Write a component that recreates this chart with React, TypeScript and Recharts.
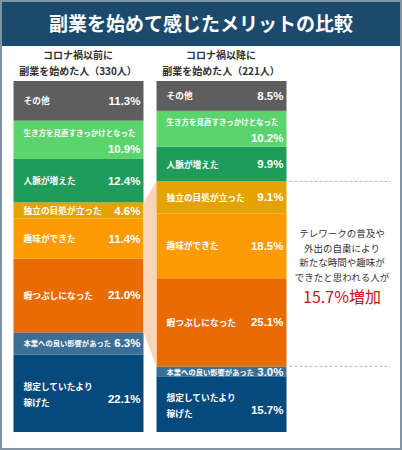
import React from "react";
import { BarChart, Bar, XAxis, YAxis } from "recharts";

const groups = ["コロナ禍以前", "コロナ禍以降"];
const groupHeaders = [
  ["コロナ禍以前に", "副業を始めた人（330人）"],
  ["コロナ禍以降に", "副業を始めた人（221人）"],
];
const categories = [
  "その他",
  "生き方を見直すきっかけとなった",
  "人脈が増えた",
  "独立の目処が立った",
  "趣味ができた",
  "暇つぶしになった",
  "本業への良い影響があった",
  "想定していたより\n稼げた",
];
const beforeValues = [11.3, 10.9, 12.4, 4.6, 11.4, 21.0, 6.3, 22.1];
const afterValues = [8.5, 10.2, 9.9, 9.1, 18.5, 25.1, 3.0, 15.7];
const colors = ["#5e5e5e", "#5bd46e", "#1f9c5a", "#e4a300", "#fe9a03", "#e96c03", "#3c6f96", "#064a7b"];
// how the name / value sit inside each segment
const layouts = ["row", "stack", "row", "row", "row", "row", "small", "two"];
const noteLines = ["テレワークの普及や", "外出の自粛により", "新たな時間や趣味が", "できたと思われる人が"];
const noteHighlight = "15.7%増加";

// segments joined by the peach band (独立 .. 暇つぶし)
const linkFrom = 3;
const linkTo = 5;

const BAR = 130;
const GAP = 13;
const JP = '"Noto Sans CJK JP", "Noto Sans", sans-serif';
const NUM = '"Liberation Sans", Arial, sans-serif';

const data = groups.map((g, gi) => {
  const vals = gi === 0 ? beforeValues : afterValues;
  const row: Record<string, string | number> = { group: g };
  categories.forEach((_, ci) => {
    row["c" + ci] = vals[ci];
  });
  return row;
});

const sum = (arr: number[], from: number, to: number) =>
  arr.slice(from, to + 1).reduce((a, b) => a + b, 0);

function Segment(props: any) {
  const { x, y, width, height, index, ci } = props;
  const vals = index === 0 ? beforeValues : afterValues;
  const v = vals[ci];
  const cy = y + height / 2;
  const lx = x + 10;
  const rx = x + width - 3;
  const layout = layouts[ci];
  const name = categories[ci];
  const nameStyle = { fontFamily: JP, fontWeight: 700, fill: "#fff" };
  const valStyle = { fontFamily: NUM, fontWeight: 700, fill: "#fff", fontSize: 11.5 };

  let link = null;
  if (ci === linkFrom && index === 1) {
    const k = height / v;
    const base = y + sum(afterValues, linkFrom, afterValues.length - 1) * k;
    const rTop = y;
    const rBot = y + sum(afterValues, linkFrom, linkTo) * k;
    const lTop = base - sum(beforeValues, linkFrom, beforeValues.length - 1) * k;
    const lBot = base - sum(beforeValues, linkTo + 1, beforeValues.length - 1) * k;
    const lx0 = x - GAP;
    link = (
      <g>
        <polygon
          points={`${lx0},${lTop} ${x},${rTop} ${x},${rBot} ${lx0},${lBot}`}
          fill="#f9d5b7"
        />
        <line x1={x + width + 3} x2={x + width + 104} y1={rTop} y2={rTop} stroke="#b5b5b5" strokeDasharray="3 2" />
        <line x1={x + width + 3} x2={x + width + 104} y1={rBot} y2={rBot} stroke="#b5b5b5" strokeDasharray="3 2" />
      </g>
    );
  }

  let labels;
  if (layout === "stack") {
    labels = (
      <>
        <text x={lx} y={cy - 7} fontSize={7.5} dominantBaseline="central" style={nameStyle}>{name}</text>
        <text x={rx} y={cy + 9} textAnchor="end" dominantBaseline="central" style={valStyle}>{v.toFixed(1)}%</text>
      </>
    );
  } else if (layout === "two") {
    const [a, b] = name.split("\n");
    labels = (
      <>
        <text x={lx} y={cy - 7} fontSize={8.7} dominantBaseline="central" style={nameStyle}>{a}</text>
        <text x={lx} y={cy + 9} fontSize={8.7} dominantBaseline="central" style={nameStyle}>{b}</text>
        <text x={rx} y={cy + 6} textAnchor="end" dominantBaseline="central" style={valStyle}>{v.toFixed(1)}%</text>
      </>
    );
  } else {
    labels = (
      <>
        <text x={lx} y={cy} fontSize={layout === "small" ? 7.3 : 8.7} dominantBaseline="central" style={nameStyle}>{name}</text>
        <text x={rx} y={cy} textAnchor="end" dominantBaseline="central" style={valStyle}>{v.toFixed(1)}%</text>
      </>
    );
  }

  return (
    <g>
      {link}
      <rect x={x} y={y} width={width} height={height} fill={colors[ci]} />
      {labels}
    </g>
  );
}

export default function App() {
  const order = categories.map((_, i) => i).reverse();
  return (
    <div
      style={{
        position: "absolute",
        left: 0,
        top: 0,
        width: 402,
        height: 450,
        background: "#fff",
        boxSizing: "border-box",
        border: "2px solid #8094a6",
        overflow: "hidden",
      }}
    >
      <div
        style={{
          position: "absolute",
          left: -2,
          top: -2,
          width: 402,
          height: 46,
          background: "#1c4a6c",
          color: "#fff",
          fontFamily: JP,
          fontWeight: 700,
          fontSize: 19,
          lineHeight: "46px",
          textAlign: "center",
        }}
      >
        副業を始めて感じたメリットの比較
      </div>
      {groupHeaders.map((lines, gi) => (
        <div
          key={gi}
          style={{
            position: "absolute",
            left: (gi === 0 ? 78 : 221) - 2 - 85,
            top: 45,
            width: 170,
            textAlign: "center",
            fontFamily: JP,
            fontWeight: 700,
            fontSize: 10,
            lineHeight: "16px",
            color: "#333",
          }}
        >
          {lines[0]}
          <br />
          {lines[1]}
        </div>
      ))}
      <div style={{ position: "absolute", left: -2, top: -2 }}>
        <BarChart
          width={402}
          height={450}
          data={data}
          margin={{ top: 81, right: 109.5, bottom: 18, left: 6.5 }}
          barSize={BAR}
        >
          <XAxis dataKey="group" hide />
          <YAxis hide type="number" domain={[0, 100]} allowDataOverflow />
          {order.map((ci) => (
            <Bar
              key={ci}
              dataKey={"c" + ci}
              stackId="a"
              fill={colors[ci]}
              isAnimationActive={false}
              shape={(p: any) => <Segment {...p} ci={ci} />}
            />
          ))}
        </BarChart>
      </div>
      <div
        style={{
          position: "absolute",
          left: 290 - 2,
          top: 224,
          width: 104,
          textAlign: "center",
          fontFamily: JP,
          color: "#333",
          fontSize: 9.5,
          lineHeight: "14.5px",
        }}
      >
        {noteLines.map((l) => (
          <div key={l}>{l}</div>
        ))}
        <div style={{ color: "#d0121b", fontSize: 16, lineHeight: "22px", marginTop: 1 }}>{noteHighlight}</div>
      </div>
    </div>
  );
}
